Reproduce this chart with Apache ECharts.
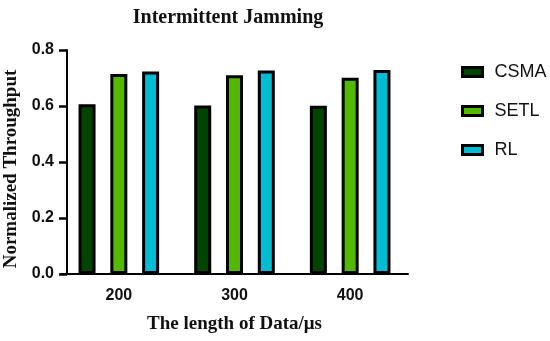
<!DOCTYPE html>
<html>
<head>
<meta charset="utf-8">
<script src="https://cdn.jsdelivr.net/npm/echarts@6/dist/echarts.min.js"></script>
<style>html,body{margin:0;padding:0;background:#fff}#c{width:550px;height:341px}</style>
</head>
<body>
<div id="c"></div>
<script>
var categories = ['200', '300', '400'];
var csma = [0.606, 0.602, 0.601];
var setl = [0.714, 0.710, 0.701];
var rl = [0.723, 0.727, 0.729];
var yTicks = [0, 0.2, 0.4, 0.6, 0.8];

var colors = {CSMA: '#004400', SETL: '#52b800', RL: '#00bcd2'};
function mk(name, data) {
  return {
    name: name, type: 'bar', data: data, barWidth: 17, barGap: '87%',
    itemStyle: {color: colors[name], borderColor: '#000', borderWidth: 3}
  };
}
var chart = echarts.init(document.getElementById('c'));
chart.setOption({
  animation: false,
  title: {
    text: 'Intermittent Jamming', left: 223, textAlign: 'center', top: 3,
    textStyle: {fontFamily: 'Liberation Serif', fontWeight: 'bold', fontSize: 20, color: '#111'}
  },
  legend: {
    orient: 'vertical', left: 456, top: 58, itemWidth: 20, itemHeight: 9, itemGap: 21,
    icon: 'rect',
    data: ['CSMA', 'SETL', 'RL'],
    itemStyle: {borderColor: '#000', borderWidth: 3},
    textStyle: {fontFamily: 'Liberation Sans', fontSize: 18, color: '#111', padding: [0, 0, 0, 7]}
  },
  grid: {left: 61, width: 347, top: 50, height: 224, outerBoundsMode: 'none', containLabel: false},
  xAxis: {
    type: 'category', data: categories,
    name: 'The length of Data/\u03bcs', nameLocation: 'middle', nameGap: 41,
    nameTextStyle: {fontFamily: 'Liberation Serif', fontWeight: 'bold', fontSize: 19, color: '#111'},
    axisLine: {lineStyle: {color: '#000', width: 2}},
    axisTick: {alignWithLabel: true, length: 7, lineStyle: {color: '#000', width: 2}},
    axisLabel: {fontFamily: 'Liberation Sans', fontWeight: 'bold', fontSize: 16, color: '#111', margin: 14}
  },
  yAxis: {
    type: 'value', min: 0, max: 0.8, interval: 0.2, offset: -6,
    name: 'Normalized Throughput', nameLocation: 'middle', nameGap: 44,
    nameTextStyle: {fontFamily: 'Liberation Serif', fontWeight: 'bold', fontSize: 19, color: '#111', padding: [0, 14, 0, 0]},
    axisLine: {show: true, lineStyle: {color: '#000', width: 2}},
    axisTick: {show: true, inside: false, length: 8, lineStyle: {color: '#000', width: 2.5}},
    splitLine: {show: false},
    axisLabel: {
      fontFamily: 'Liberation Sans', fontWeight: 'bold', fontSize: 16, color: '#111', margin: 13,
      formatter: function (v) { return yTicks.indexOf(+(+v).toFixed(1)) >= 0 ? (+v).toFixed(1) : ''; }
    }
  },
  series: [mk('CSMA', csma), mk('SETL', setl), mk('RL', rl)]
});
</script>
</body>
</html>
